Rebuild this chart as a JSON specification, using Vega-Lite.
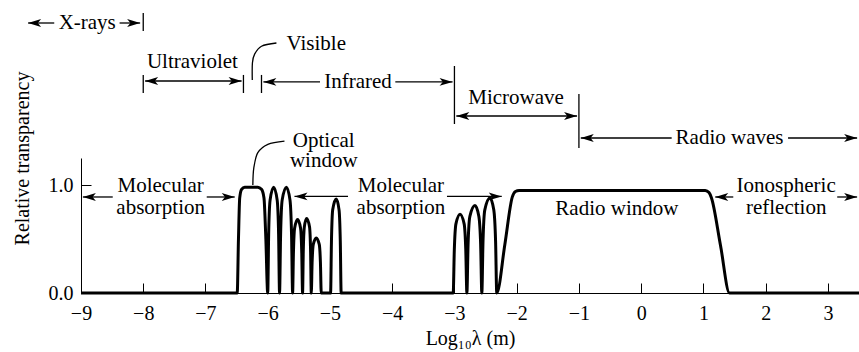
{
  "$schema": "https://vega.github.io/schema/vega-lite/v6.json",
  "autosize": {"type": "none"},
  "padding": {"left": 81, "top": 158, "right": 0, "bottom": 60},
  "width": 778,
  "height": 135,
  "config": {
    "view": {"stroke": null},
    "font": "Liberation Serif",
    "text": {"font": "Liberation Serif", "fontSize": 21, "color": "black"}
  },
  "datasets": {
    "curve": [
      {"x": -9, "y": 0}, {"x": -6.49, "y": 0}, {"x": -6.47, "y": 0.5}, {"x": -6.45, "y": 0.88},
      {"x": -6.42, "y": 0.96}, {"x": -6.37, "y": 0.98}, {"x": -6.16, "y": 0.98}, {"x": -6.1, "y": 0.96},
      {"x": -6.06, "y": 0.88}, {"x": -6.03, "y": 0.5}, {"x": -6.0, "y": 0},
      {"x": -5.985, "y": 0.54}, {"x": -5.962, "y": 0.86}, {"x": -5.905, "y": 0.98}, {"x": -5.848, "y": 0.86}, {"x": -5.825, "y": 0.54}, {"x": -5.81, "y": 0},
      {"x": -5.793, "y": 0.54}, {"x": -5.768, "y": 0.86}, {"x": -5.7, "y": 0.98}, {"x": -5.642, "y": 0.86}, {"x": -5.617, "y": 0.54}, {"x": -5.6, "y": 0},
      {"x": -5.587, "y": 0.37}, {"x": -5.568, "y": 0.6}, {"x": -5.52, "y": 0.68}, {"x": -5.472, "y": 0.6}, {"x": -5.453, "y": 0.37}, {"x": -5.44, "y": 0},
      {"x": -5.429, "y": 0.38}, {"x": -5.412, "y": 0.61}, {"x": -5.375, "y": 0.69}, {"x": -5.328, "y": 0.61}, {"x": -5.311, "y": 0.38}, {"x": -5.3, "y": 0},
      {"x": -5.287, "y": 0.28}, {"x": -5.268, "y": 0.45}, {"x": -5.22, "y": 0.51}, {"x": -5.172, "y": 0.45}, {"x": -5.153, "y": 0.28}, {"x": -5.14, "y": 0},
      {"x": -4.99, "y": 0},
      {"x": -4.976, "y": 0.48}, {"x": -4.956, "y": 0.77}, {"x": -4.9, "y": 0.87}, {"x": -4.854, "y": 0.77}, {"x": -4.834, "y": 0.48}, {"x": -4.82, "y": 0},
      {"x": -3.02, "y": 0},
      {"x": -3.002, "y": 0.4}, {"x": -2.976, "y": 0.64}, {"x": -2.91, "y": 0.73}, {"x": -2.844, "y": 0.64}, {"x": -2.818, "y": 0.4}, {"x": -2.8, "y": 0},
      {"x": -2.781, "y": 0.45}, {"x": -2.752, "y": 0.71}, {"x": -2.67, "y": 0.81}, {"x": -2.608, "y": 0.71}, {"x": -2.579, "y": 0.45}, {"x": -2.56, "y": 0},
      {"x": -2.541, "y": 0.48}, {"x": -2.512, "y": 0.77}, {"x": -2.43, "y": 0.88}, {"x": -2.368, "y": 0.77}, {"x": -2.339, "y": 0.48}, {"x": -2.32, "y": 0},
      {"x": -2.19, "y": 0.45}, {"x": -2.07, "y": 0.89}, {"x": -2.02, "y": 0.94}, {"x": -1.96, "y": 0.95},
      {"x": 1.03, "y": 0.95}, {"x": 1.09, "y": 0.93}, {"x": 1.13, "y": 0.88}, {"x": 1.275, "y": 0.44}, {"x": 1.42, "y": 0}, {"x": 3.5, "y": 0}
    ],
    "hlines": [
      {"x": -9.85, "x2": -9.43, "y": 2.5}, {"x": -8.38, "x2": -8.05, "y": 2.5},
      {"x": -7.97, "x2": -6.42, "y": 1.963},
      {"x": -6.07, "x2": -5.16, "y": 1.954}, {"x": -3.95, "x2": -3.03, "y": 1.954},
      {"x": -2.97, "x2": -1.03, "y": 1.639},
      {"x": -0.97, "x2": 0.49, "y": 1.435}, {"x": 2.36, "x2": 3.47, "y": 1.435},
      {"x": -8.97, "x2": -8.49, "y": 0.889}, {"x": -6.98, "x2": -6.53, "y": 0.889},
      {"x": -5.57, "x2": -4.71, "y": 0.894}, {"x": -3.12, "x2": -2.24, "y": 0.894},
      {"x": 1.19, "x2": 1.48, "y": 0.889}, {"x": 3.15, "x2": 3.47, "y": 0.889}
    ],
    "vbars": [
      {"x": -8, "y": 2.426, "y2": 2.593},
      {"x": -8, "y": 1.852, "y2": 2.019},
      {"x": -6.39, "y": 1.852, "y2": 2.019},
      {"x": -6.1, "y": 1.852, "y2": 2.019},
      {"x": -3, "y": 1.565, "y2": 2.102},
      {"x": -1, "y": 1.343, "y2": 1.843}
    ],
    "heads": [
      {"x": -9.85, "y": 2.5, "dir": "left"}, {"x": -8.05, "y": 2.5, "dir": "right"},
      {"x": -7.97, "y": 1.963, "dir": "left"}, {"x": -6.42, "y": 1.963, "dir": "right"},
      {"x": -6.07, "y": 1.954, "dir": "left"}, {"x": -3.03, "y": 1.954, "dir": "right"},
      {"x": -2.97, "y": 1.639, "dir": "left"}, {"x": -1.03, "y": 1.639, "dir": "right"},
      {"x": -0.97, "y": 1.435, "dir": "left"}, {"x": 3.47, "y": 1.435, "dir": "right"},
      {"x": -8.97, "y": 0.889, "dir": "left"}, {"x": -6.53, "y": 0.889, "dir": "right"},
      {"x": -5.57, "y": 0.894, "dir": "left"}, {"x": -2.24, "y": 0.894, "dir": "right"},
      {"x": 1.19, "y": 0.889, "dir": "left"}, {"x": 3.47, "y": 0.889, "dir": "right"}
    ],
    "labels": [
      {"x": -8.9, "y": 2.5, "text": "X-rays"},
      {"x": -7.21, "y": 2.139, "text": "Ultraviolet"},
      {"x": -5.22, "y": 2.306, "text": "Visible"},
      {"x": -4.55, "y": 1.954, "text": "Infrared"},
      {"x": -2.01, "y": 1.806, "text": "Microwave"},
      {"x": 1.42, "y": 1.435, "text": "Radio waves"},
      {"x": -7.72, "y": 0.991, "text": "Molecular"},
      {"x": -7.72, "y": 0.787, "text": "absorption"},
      {"x": -5.1, "y": 1.407, "text": "Optical"},
      {"x": -5.1, "y": 1.222, "text": "window"},
      {"x": -3.86, "y": 0.991, "text": "Molecular"},
      {"x": -3.86, "y": 0.787, "text": "absorption"},
      {"x": -0.39, "y": 0.778, "text": "Radio window"},
      {"x": 2.33, "y": 0.991, "text": "Ionospheric"},
      {"x": 2.33, "y": 0.787, "text": "reflection"}
    ],
    "leaders": [
      {"id": "v", "o": 0, "x": -6.248, "y": 1.972},
      {"id": "v", "o": 1, "x": -6.246, "y": 2.13},
      {"id": "v", "o": 2, "x": -6.212, "y": 2.21},
      {"id": "v", "o": 3, "x": -6.1, "y": 2.285},
      {"id": "v", "o": 4, "x": -5.86, "y": 2.315},
      {"id": "o", "o": 0, "x": -6.239, "y": 1.0},
      {"id": "o", "o": 1, "x": -6.223, "y": 1.16},
      {"id": "o", "o": 2, "x": -6.159, "y": 1.299},
      {"id": "o", "o": 3, "x": -5.998, "y": 1.377},
      {"id": "o", "o": 4, "x": -5.731, "y": 1.407}
    ]
  },
  "encoding": {
    "x": {
      "field": "x", "type": "quantitative",
      "scale": {"domain": [-9, 3.5], "nice": false, "zero": false},
      "axis": {
        "values": [-9, -8, -7, -6, -5, -4, -3, -2, -1, 0, 1, 2, 3],
        "format": "d", "grid": false,
        "domainColor": "black", "domainWidth": 1,
        "tickColor": "black", "tickWidth": 1, "tickSize": -10,
        "labelPadding": 20, "labelFontSize": 20, "labelColor": "black", "labelFont": "Liberation Serif",
        "labelFlush": false, "labelOverlap": false,
        "title": "Log₁₀λ (m)", "titleFontSize": 20, "titleFontWeight": "normal", "titleColor": "black",
        "titleFont": "Liberation Serif", "titleBaseline": "middle", "titleY": 45
      }
    },
    "y": {
      "field": "y", "type": "quantitative",
      "scale": {"domain": [0, 1.25], "nice": false, "zero": false},
      "axis": {
        "values": [0, 1], "format": ".1f", "grid": false,
        "domainColor": "black", "domainWidth": 1,
        "tickColor": "black", "tickWidth": 1, "tickSize": -10,
        "labelPadding": 18, "labelFontSize": 20, "labelColor": "black", "labelFont": "Liberation Serif",
        "labelFlush": false, "labelOverlap": false,
        "title": "Relative transparency", "titleFontSize": 20, "titleFontWeight": "normal", "titleColor": "black",
        "titleFont": "Liberation Serif", "titleBaseline": "alphabetic", "titleX": -53, "titleY": 0, "titleAngle": -90
      }
    }
  },
  "layer": [
    {
      "data": {"name": "curve"},
      "mark": {"type": "line", "color": "black", "strokeWidth": 3, "interpolate": "monotone", "strokeJoin": "round"},
      "encoding": {}
    },
    {
      "data": {"name": "hlines"},
      "mark": {"type": "rule", "color": "black", "strokeWidth": 1.3},
      "encoding": {"x2": {"field": "x2"}}
    },
    {
      "data": {"name": "vbars"},
      "mark": {"type": "rule", "color": "black", "strokeWidth": 1.3},
      "encoding": {"y2": {"field": "y2"}}
    },
    {
      "data": {"name": "heads"},
      "mark": {"type": "point", "filled": true, "color": "black", "opacity": 1, "size": 169},
      "encoding": {
        "shape": {
          "field": "dir", "type": "nominal", "legend": null,
          "scale": {"domain": ["left", "right"], "range": ["M0,0L2,-0.6L1.5,0L2,0.6Z", "M0,0L-2,-0.6L-1.5,0L-2,0.6Z"]}
        }
      }
    },
    {
      "data": {"name": "labels"},
      "mark": {"type": "text", "align": "center", "baseline": "middle", "font": "Liberation Serif", "fontSize": 21, "color": "black"},
      "encoding": {"text": {"field": "text"}}
    },
    {
      "data": {"name": "leaders"},
      "mark": {"type": "line", "color": "black", "strokeWidth": 1.3, "interpolate": "cardinal"},
      "encoding": {"detail": {"field": "id"}, "order": {"field": "o"}}
    }
  ]
}
